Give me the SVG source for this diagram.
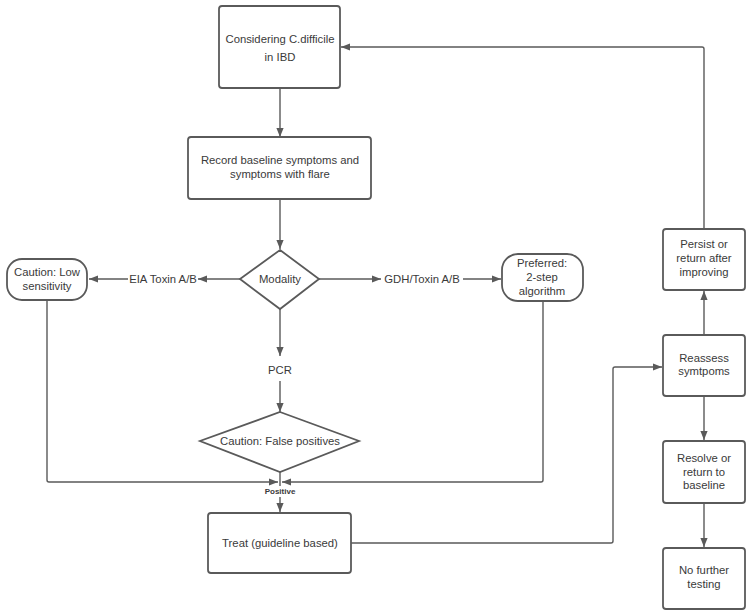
<svg xmlns="http://www.w3.org/2000/svg" width="750" height="613" viewBox="0 0 750 613">
<style>
.box{fill:#fff;stroke:#5a5a5a;stroke-width:1.8}
.ln{fill:none;stroke:#5a5a5a;stroke-width:1.4}
text{font-family:"Liberation Sans",Arial,sans-serif;font-size:11.3px;fill:#3a3a3a;text-anchor:middle}
.sm{font-size:8px;font-weight:bold}
</style>
<defs>
<marker id="ah" viewBox="0 0 10 10" refX="10" refY="5" markerWidth="9" markerHeight="9" markerUnits="userSpaceOnUse" orient="auto">
<path d="M0,1 L10,5 L0,9 Z" fill="#5a5a5a"/>
</marker>
</defs>
<rect width="750" height="613" fill="#fff"/>
<g id="connectors">
<path class="ln" d="M280,88 V137" marker-end="url(#ah)"/>
<path class="ln" d="M280,199 V249" marker-end="url(#ah)"/>
<path class="ln" d="M240,279 H198" marker-end="url(#ah)"/>
<path class="ln" d="M128,279 H89" marker-end="url(#ah)"/>
<path class="ln" d="M319,279 H381" marker-end="url(#ah)"/>
<path class="ln" d="M463,279 H501" marker-end="url(#ah)"/>
<path class="ln" d="M280,309 V356" marker-end="url(#ah)"/>
<path class="ln" d="M280,381 V412" marker-end="url(#ah)"/>
<path class="ln" d="M47,300 V480 Q47,482 49,482 H278" marker-end="url(#ah)"/>
<path class="ln" d="M543,301 V480 Q543,482 541,482 H282" marker-end="url(#ah)"/>
<path class="ln" d="M280,472 V486"/>
<path class="ln" d="M280,497 V512" marker-end="url(#ah)"/>
<path class="ln" d="M351,543 H611 Q613,543 613,541 V369 Q613,367 615,367 H662" marker-end="url(#ah)"/>
<path class="ln" d="M704,335 V291" marker-end="url(#ah)"/>
<path class="ln" d="M704,229 V49 Q704,47 702,47 H341" marker-end="url(#ah)"/>
<path class="ln" d="M704,396 V440" marker-end="url(#ah)"/>
<path class="ln" d="M704,503 V547" marker-end="url(#ah)"/>
<text x="163" y="283">EIA Toxin A/B</text>
<text x="422" y="283">GDH/Toxin A/B</text>
<text x="280" y="374">PCR</text>
<text class="sm" x="280" y="494">Positive</text>
</g>
<g id="n-considering">
<rect class="box" x="219" y="6" width="121" height="82" rx="3"/>
<text x="280" y="43">Considering C.difficile</text>
<text x="280" y="61">in IBD</text>
</g>
<g id="n-record">
<rect class="box" x="188" y="137" width="183" height="62" rx="3"/>
<text x="280" y="164">Record baseline symptoms and</text>
<text x="280" y="178">symptoms with flare</text>
</g>
<g id="n-modality">
<polygon class="box" points="280,250 319,279 280,309 240,279"/>
<text x="280" y="283">Modality</text>
</g>
<g id="n-low">
<rect class="box" x="7" y="259" width="80" height="41" rx="15"/>
<text x="47" y="276">Caution: Low</text>
<text x="47" y="290">sensitivity</text>
</g>
<g id="n-preferred">
<rect class="box" x="502" y="254" width="81" height="47" rx="16"/>
<text x="542" y="267">Preferred:</text>
<text x="542" y="281">2-step</text>
<text x="542" y="295">algorithm</text>
</g>
<g id="n-false">
<polygon class="box" points="280,412 359,441 280,472 200,441"/>
<text x="280" y="445">Caution: False positives</text>
</g>
<g id="n-treat">
<rect class="box" x="208" y="513" width="143" height="60" rx="3"/>
<text x="280" y="547">Treat (guideline based)</text>
</g>
<g id="n-persist">
<rect class="box" x="663" y="229" width="82" height="61" rx="3"/>
<text x="704" y="248">Persist or</text>
<text x="704" y="262">return after</text>
<text x="704" y="276">improving</text>
</g>
<g id="n-reassess">
<rect class="box" x="663" y="335" width="82" height="61" rx="3"/>
<text x="704" y="362">Reassess</text>
<text x="704" y="375">symtpoms</text>
</g>
<g id="n-resolve">
<rect class="box" x="663" y="441" width="82" height="62" rx="3"/>
<text x="704" y="462">Resolve or</text>
<text x="704" y="476">return to</text>
<text x="704" y="489">baseline</text>
</g>
<g id="n-nofurther">
<rect class="box" x="663" y="548" width="82" height="61" rx="3"/>
<text x="704" y="574">No further</text>
<text x="704" y="588">testing</text>
</g>
</svg>
